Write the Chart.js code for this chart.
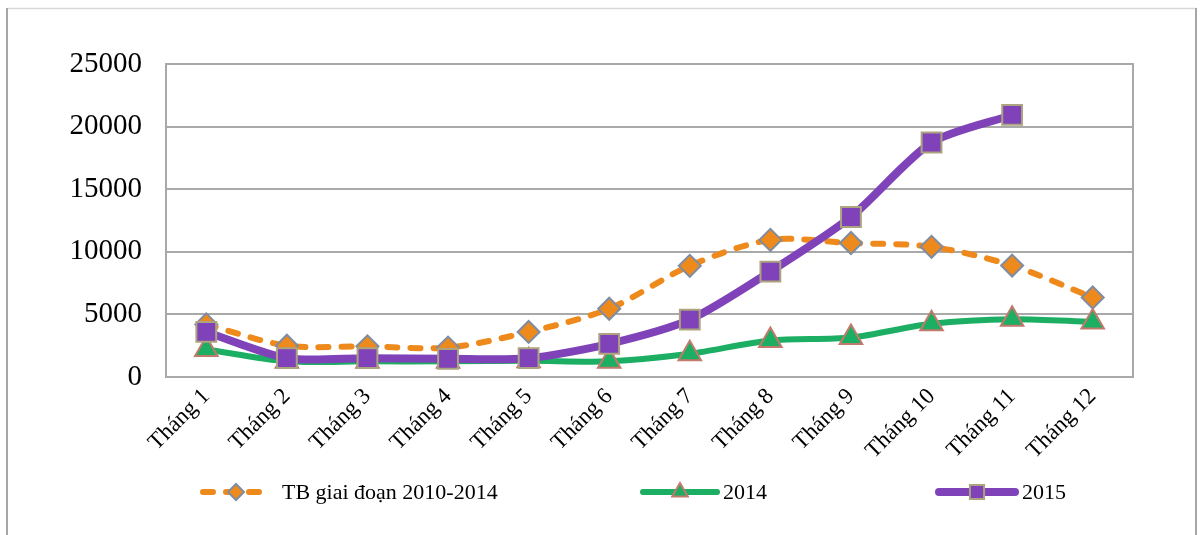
<!DOCTYPE html>
<html lang="vi">
<head>
<meta charset="utf-8">
<title>Biểu đồ theo tháng</title>
<script src="https://cdn.jsdelivr.net/npm/chart.js@4.4.1/dist/chart.umd.min.js"></script>
<style>
  html, body { margin: 0; padding: 0; background: #ffffff; }
  #wrap { position: relative; width: 1200px; height: 535px; overflow: hidden; }
  canvas { display: block; }
</style>
</head>
<body>
<div id="wrap"><canvas id="chart" width="1200" height="535"></canvas></div>
<script>
// Months on the category axis
const categories = ['Tháng 1', 'Tháng 2', 'Tháng 3', 'Tháng 4', 'Tháng 5', 'Tháng 6',
                    'Tháng 7', 'Tháng 8', 'Tháng 9', 'Tháng 10', 'Tháng 11', 'Tháng 12'];

// Series values per month
const avg2010to2014 = [4200, 2500, 2450, 2350, 3600, 5450, 8880, 10950, 10700, 10400, 8900, 6350];
const values2014    = [2200, 1250, 1250, 1250, 1300, 1250, 1850, 2920, 3150, 4250, 4620, 4400];
const values2015    = [3600, 1500, 1500, 1450, 1500, 2650, 4580, 8420, 12780, 18730, 20930, null];

// Value axis ticks
const yTicks = [0, 5000, 10000, 15000, 20000, 25000];

// Series names
const seriesNames = ['TB giai đoạn 2010-2014', '2014', '2015'];

const SERIF = '"Liberation Serif", "DejaVu Serif", serif';
const GRID = '#a9a9a9';

// Outer frame and plot-area border
const framePlugin = {
  id: 'frame',
  beforeDraw(chart) {
    const ctx = chart.ctx;
    ctx.save();
    ctx.fillStyle = '#ffffff';
    ctx.fillRect(0, 0, chart.width, chart.height);
    ctx.lineWidth = 1.5;
    ctx.strokeStyle = '#d9d9d9';
    ctx.beginPath();
    ctx.moveTo(7, 8.5); ctx.lineTo(1196, 8.5);
    ctx.stroke();
    ctx.strokeStyle = '#a6a6a6';
    ctx.lineWidth = 2;
    ctx.beginPath();
    ctx.moveTo(7, 8); ctx.lineTo(7, chart.height);
    ctx.moveTo(1196, 8); ctx.lineTo(1196, chart.height);
    ctx.stroke();
    ctx.restore();
  },
  beforeDatasetsDraw(chart) {
    const { ctx, chartArea: a } = chart;
    ctx.save();
    ctx.strokeStyle = GRID;
    ctx.lineWidth = 2;
    ctx.strokeRect(a.left, a.top, a.right - a.left, a.bottom - a.top);
    ctx.restore();
  }
};

// Legend drawn as line sample + marker + label along the bottom
const legendPlugin = {
  id: 'lineLegend',
  afterDraw(chart) {
    const ctx = chart.ctx;
    const y = 492;
    const entries = [
      { ds: 0, x0: 200, x1: 272, tx: 282, r: 8 },
      { ds: 1, x0: 640, x1: 720, tx: 723, r: 9 },
      { ds: 2, x0: 935, x1: 1019, tx: 1022, r: 10 }
    ];
    ctx.save();
    entries.forEach(e => {
      const ds = chart.data.datasets[e.ds];
      ctx.strokeStyle = ds.borderColor;
      ctx.lineWidth = ds.borderWidth;
      ctx.lineCap = 'round';
      ctx.setLineDash(ds.borderDash || []);
      ctx.beginPath();
      ctx.moveTo(e.x0 + ds.borderWidth / 2, y);
      ctx.lineTo(e.x1 - ds.borderWidth / 2, y);
      ctx.stroke();
      ctx.setLineDash([]);
      ctx.fillStyle = ds.pointBackgroundColor;
      ctx.strokeStyle = ds.pointBorderColor;
      ctx.lineWidth = ds.pointBorderWidth;
      Chart.helpers.drawPoint(ctx, {
        pointStyle: ds.pointStyle, radius: e.r, rotation: 0, borderWidth: ds.pointBorderWidth
      }, (e.x0 + e.x1) / 2, y);
      ctx.fillStyle = '#000000';
      ctx.font = '22px ' + SERIF;
      ctx.textBaseline = 'middle';
      ctx.textAlign = 'left';
      ctx.fillText(ds.label, e.tx, y + 1);
    });
    ctx.restore();
  }
};

new Chart(document.getElementById('chart'), {
  type: 'line',
  data: {
    labels: categories,
    datasets: [
      {
        label: seriesNames[0],
        data: avg2010to2014,
        order: 3,
        borderColor: '#ee8a1c',
        borderWidth: 6,
        borderDash: [10, 13],
        borderCapStyle: 'round',
        tension: 0.3,
        pointStyle: 'rectRot',
        pointRadius: 11,
        pointBackgroundColor: '#ee8a1c',
        pointBorderColor: '#7f8ca1',
        pointBorderWidth: 2
      },
      {
        label: seriesNames[1],
        data: values2014,
        order: 2,
        borderColor: '#1cae63',
        borderWidth: 6,
        tension: 0.3,
        pointStyle: 'triangle',
        pointRadius: 13,
        pointBackgroundColor: '#1cae63',
        pointBorderColor: '#c27a6d',
        pointBorderWidth: 2
      },
      {
        label: seriesNames[2],
        data: values2015,
        order: 1,
        borderColor: '#7f42b9',
        borderWidth: 8,
        tension: 0.25,
        pointStyle: 'rect',
        pointRadius: 14,
        pointBackgroundColor: '#7f42b9',
        pointBorderColor: '#aba47f',
        pointBorderWidth: 2
      }
    ]
  },
  options: {
    responsive: false,
    animation: false,
    events: [],
    layout: { padding: { top: 64, right: 67, left: 0, bottom: 0 } },
    plugins: {
      legend: { display: false },
      tooltip: { enabled: false }
    },
    scales: {
      x: {
        offset: true,
        grid: { display: false, drawTicks: false },
        border: { display: true, color: GRID, width: 2 },
        ticks: {
          minRotation: 45,
          maxRotation: 45,
          autoSkip: false,
          padding: 6,
          color: '#000000',
          font: { family: SERIF, size: 23 }
        },
        afterFit(scale) { scale.height = 158; }
      },
      y: {
        min: yTicks[0],
        max: yTicks[yTicks.length - 1],
        afterBuildTicks(scale) { scale.ticks = yTicks.map(v => ({ value: v })); },
        grid: { color: GRID, lineWidth: 2, drawTicks: false },
        border: { display: true, color: GRID, width: 2 },
        ticks: {
          padding: 24,
          color: '#000000',
          font: { family: SERIF, size: 29 },
          callback: v => String(v)
        },
        afterFit(scale) { scale.width = 166; }
      }
    }
  },
  plugins: [framePlugin, legendPlugin]
});
</script>
</body>
</html>
